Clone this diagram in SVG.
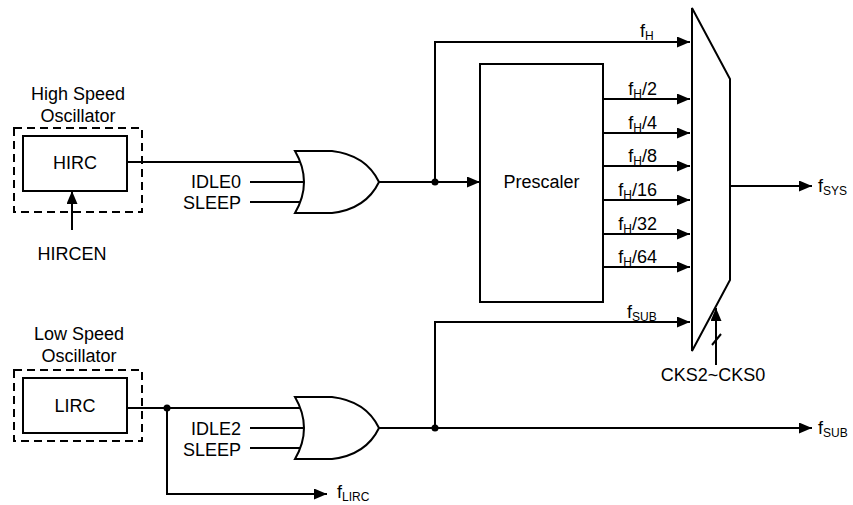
<svg xmlns="http://www.w3.org/2000/svg" width="853" height="505" viewBox="0 0 853 505">
<style>
text{font-family:"Liberation Sans",Arial,sans-serif;font-size:18px;fill:#000}
.sub{font-size:12px}
.ln{fill:none;stroke:#000;stroke-width:2}
.ar{fill:none;stroke:#000;stroke-width:2;marker-end:url(#arr)}
.box{fill:#fff;stroke:#000;stroke-width:2}
.dash{fill:none;stroke:#000;stroke-width:2;stroke-dasharray:8,5}
.dot{fill:#000}
</style>
<defs>
<marker id="arr" markerUnits="userSpaceOnUse" markerWidth="13" markerHeight="11" refX="13" refY="5.5" orient="auto">
<path d="M0,0 L13,5.5 L0,11 Z" fill="#000"/>
</marker>
</defs>
<rect width="853" height="505" fill="#fff"/>
<g id="connectors">
<path class="ln" d="M127,162 H305"/>
<path class="ln" d="M250,182 H305"/>
<path class="ln" d="M250,202 H305"/>
<path class="ar" d="M379,182 H480"/>
<path class="ar" d="M435,182 V42 H690"/>
<path class="ar" d="M603,99 H690"/>
<path class="ar" d="M603,133 H690"/>
<path class="ar" d="M603,166 H690"/>
<path class="ar" d="M603,200 H690"/>
<path class="ar" d="M603,234 H690"/>
<path class="ar" d="M603,267 H690"/>
<path class="ar" d="M730,186 H812"/>
<path class="ln" d="M127,408 H305"/>
<path class="ln" d="M250,428 H305"/>
<path class="ln" d="M250,448 H305"/>
<path class="ar" d="M379,428 H812"/>
<path class="ar" d="M435,428 V322 H690"/>
<path class="ar" d="M167,408 V494 H327"/>
<path class="ar" d="M72,230 V191"/>
<path class="ar" d="M716,365 V308"/>
<path class="ln" d="M712,345 L721,334"/>
<circle class="dot" cx="435" cy="182" r="3.5"/>
<circle class="dot" cx="435" cy="428" r="3.5"/>
<circle class="dot" cx="167" cy="408" r="3.5"/>
</g>
<g id="hs-osc">
<rect class="dash" x="14" y="128" width="128" height="84"/>
<text x="78" y="100" text-anchor="middle">High Speed</text>
<text x="78" y="122" text-anchor="middle">Oscillator</text>
</g>
<g id="hirc">
<rect class="box" x="23" y="136" width="104" height="55"/>
<text x="75" y="169" text-anchor="middle">HIRC</text>
</g>
<g id="hircen"><text x="72" y="260" text-anchor="middle">HIRCEN</text></g>
<g id="or1">
<path class="box" d="M295,151 H332 Q366,155 379,182 Q366,209 332,213 H295 Q313,182 295,151 Z"/>
<text x="241" y="188" text-anchor="end">IDLE0</text>
<text x="241" y="209" text-anchor="end">SLEEP</text>
</g>
<g id="prescaler">
<rect class="box" x="480" y="64" width="123" height="238"/>
<text x="541.5" y="188" text-anchor="middle">Prescaler</text>
</g>
<g id="mux">
<path class="box" d="M692,8 L730,79 L730,280 L692,351 Z"/>
</g>
<g id="labels">
<text x="640" y="37">f<tspan class="sub" dy="3">H</tspan></text>
<text x="657" y="95" text-anchor="end">f<tspan class="sub" dy="3">H</tspan><tspan dy="-3">/2</tspan></text>
<text x="657" y="129" text-anchor="end">f<tspan class="sub" dy="3">H</tspan><tspan dy="-3">/4</tspan></text>
<text x="657" y="162" text-anchor="end">f<tspan class="sub" dy="3">H</tspan><tspan dy="-3">/8</tspan></text>
<text x="657" y="196" text-anchor="end">f<tspan class="sub" dy="3">H</tspan><tspan dy="-3">/16</tspan></text>
<text x="657" y="230" text-anchor="end">f<tspan class="sub" dy="3">H</tspan><tspan dy="-3">/32</tspan></text>
<text x="657" y="263" text-anchor="end">f<tspan class="sub" dy="3">H</tspan><tspan dy="-3">/64</tspan></text>
<text x="627" y="318">f<tspan class="sub" dy="3">SUB</tspan></text>
<text x="818" y="192">f<tspan class="sub" dy="3">SYS</tspan></text>
<text x="818" y="434">f<tspan class="sub" dy="3">SUB</tspan></text>
<text x="337" y="498">f<tspan class="sub" dy="3">LIRC</tspan></text>
<text x="713" y="381" text-anchor="middle">CKS2~CKS0</text>
</g>
<g id="ls-osc">
<rect class="dash" x="14" y="370" width="128" height="71"/>
<text x="79" y="340" text-anchor="middle">Low Speed</text>
<text x="79" y="362" text-anchor="middle">Oscillator</text>
</g>
<g id="lirc">
<rect class="box" x="23" y="378" width="104" height="55"/>
<text x="75" y="412" text-anchor="middle">LIRC</text>
</g>
<g id="or2">
<path class="box" d="M295,397 H332 Q366,401 379,428 Q366,455 332,459 H295 Q313,428 295,397 Z"/>
<text x="241" y="435" text-anchor="end">IDLE2</text>
<text x="241" y="456" text-anchor="end">SLEEP</text>
</g>
</svg>
